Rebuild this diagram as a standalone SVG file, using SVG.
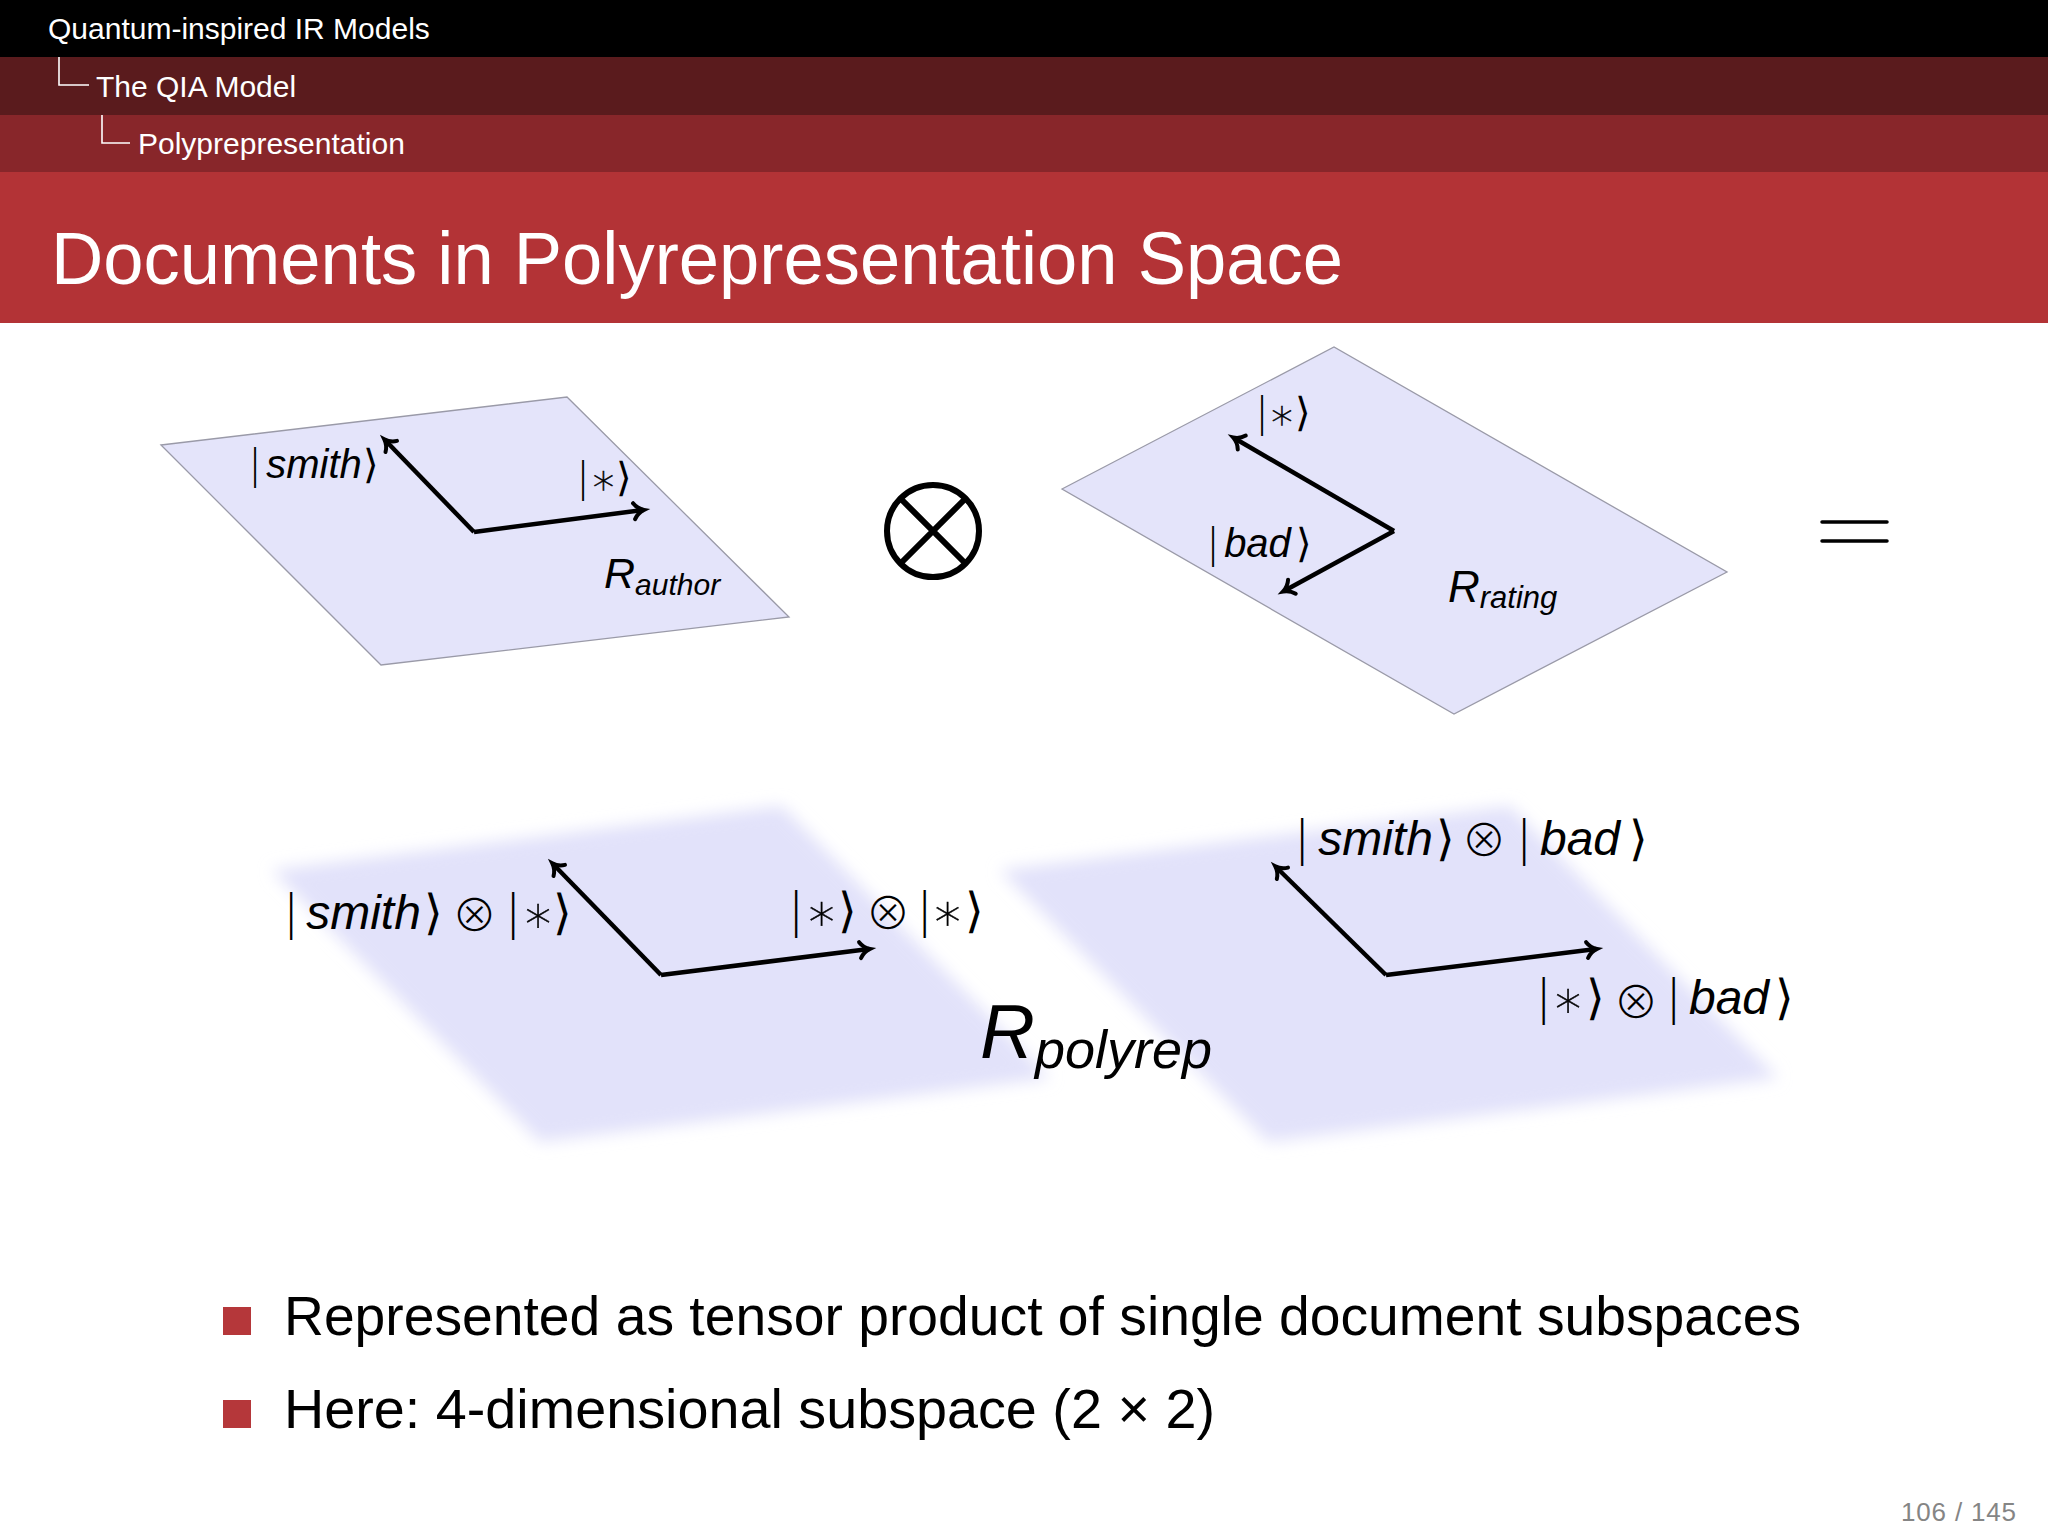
<svg xmlns="http://www.w3.org/2000/svg" width="2048" height="1536" viewBox="0 0 2048 1536">
<defs>
<style>
.hdr{font-family:"Liberation Sans",Arial,sans-serif;fill:#fff;font-size:30px}
.title{font-family:"Liberation Sans",Arial,sans-serif;fill:#fff;font-size:74px}
.body{font-family:"Liberation Sans",Arial,sans-serif;fill:#000;font-size:56px}
.plane{fill:#e4e4fa;stroke:#9a9aa8;stroke-width:1.3}
.soft{fill:#e2e2fa;stroke:none}
.sym{font-family:"DejaVu Sans",sans-serif;font-weight:200;fill:#000;text-anchor:middle}
.ast{font-family:"DejaVu Sans",sans-serif;font-weight:200;fill:#000;text-anchor:middle;stroke:#000;stroke-width:0.5}
.a40{font-size:43px}
.a48{font-size:52px}
.ot{font-family:"Noto Sans CJK JP","DejaVu Sans",sans-serif;font-weight:300;fill:#000;text-anchor:middle;font-size:45px}
.it{font-family:"Liberation Sans",Arial,sans-serif;font-style:italic;fill:#000}
.s40{font-size:40px}
.s48{font-size:48px}
.vec{stroke:#000;stroke-width:4.5;fill:none;marker-end:url(#tip)}
.tree{stroke:#fff;stroke-width:1.6;fill:none}
</style>
<marker id="tip" markerUnits="userSpaceOnUse" viewBox="-14 -12 20 24" refX="0" refY="0" markerWidth="20" markerHeight="24" orient="auto" overflow="visible">
<path d="M-9,-8 C-6,-3 -2,-1 1,0 C-2,1 -6,3 -9,8" fill="none" stroke="#000" stroke-width="4" stroke-linecap="round"/>
</marker>
<filter id="blur" x="-10%" y="-10%" width="120%" height="120%">
<feGaussianBlur stdDeviation="8"/>
</filter>
</defs>
<rect width="2048" height="1536" fill="#fff"/>

<g id="header">
<rect x="0" y="0" width="2048" height="57" fill="#000"/>
<rect x="0" y="57" width="2048" height="58" fill="#5a1b1d"/>
<rect x="0" y="115" width="2048" height="57" fill="#88262a"/>
<rect x="0" y="172" width="2048" height="151" fill="#b33336"/>
<text class="hdr" x="48" y="39">Quantum-inspired IR Models</text>
<path class="tree" d="M59,57 V85 H89"/>
<text class="hdr" x="96" y="97">The QIA Model</text>
<path class="tree" d="M102,115 V143 H130"/>
<text class="hdr" x="138" y="154">Polyprepresentation</text>
<text class="title" x="51" y="284" textLength="1292" lengthAdjust="spacingAndGlyphs">Documents in Polyrepresentation Space</text>
</g>

<g id="plane-author">
<polygon class="plane" points="161,445 567,397 789,617 381,665"/>
<text class="sym s40" x="255" y="478">|</text>
<text class="it s40" x="314" y="478" text-anchor="middle">smith</text>
<text class="sym s40" x="371" y="478">⟩</text>
<text class="sym s40" x="583" y="491">|</text>
<text class="ast a40" x="603.5" y="494">∗</text>
<text class="sym s40" x="624" y="491">⟩</text>
<text class="it" x="604" y="588" font-size="43">R<tspan font-size="30" dy="7">author</tspan></text>
</g>

<g id="otimes">
<circle cx="933" cy="531" r="46" fill="none" stroke="#000" stroke-width="6"/>
<path d="M900.5,498.5 L965.5,563.5 M965.5,498.5 L900.5,563.5" stroke="#000" stroke-width="6"/>
</g>

<g id="plane-rating">
<polygon class="plane" points="1062,489 1334,347 1727,572 1454,714"/>
<text class="sym s40" x="1262" y="426">|</text>
<text class="ast a40" x="1282" y="429">∗</text>
<text class="sym s40" x="1302.5" y="426">⟩</text>
<text class="sym s40" x="1213" y="557">|</text>
<text class="it s40" x="1257.5" y="557" text-anchor="middle">bad</text>
<text class="sym s40" x="1304" y="557">⟩</text>
<text class="it" x="1448" y="602" font-size="44">R<tspan font-size="31" dy="6">rating</tspan></text>
</g>

<g id="equals">
<path d="M1822,522 H1887 M1822,541 H1887" stroke="#000" stroke-width="3.5" stroke-linecap="round"/>
</g>

<g id="plane-polyrep">
<polygon class="soft" filter="url(#blur)" points="272,870 782,806 1050,1078 540,1142"/>
<polygon class="soft" filter="url(#blur)" points="1000,870 1510,806 1778,1078 1268,1142"/>
<text class="sym s48" x="291" y="929">|</text>
<text class="it s48" x="363.5" y="929" text-anchor="middle">smith</text>
<text class="sym s48" x="433.5" y="929">⟩</text>
<text class="ot" x="474.5" y="932">⊗</text>
<text class="sym s48" x="513" y="929">|</text>
<text class="ast a48" x="538" y="932">∗</text>
<text class="sym s48" x="562.5" y="929">⟩</text>

<text class="sym s48" x="796" y="927">|</text>
<text class="ast a48" x="821.5" y="930">∗</text>
<text class="sym s48" x="847" y="927">⟩</text>
<text class="ot" x="888" y="930">⊗</text>
<text class="sym s48" x="924.5" y="927">|</text>
<text class="ast a48" x="947.5" y="930">∗</text>
<text class="sym s48" x="974.5" y="927">⟩</text>

<text class="sym s48" x="1302" y="855">|</text>
<text class="it s48" x="1375.5" y="855" text-anchor="middle">smith</text>
<text class="sym s48" x="1445.5" y="855">⟩</text>
<text class="ot" x="1484" y="857">⊗</text>
<text class="sym s48" x="1524" y="855">|</text>
<text class="it s48" x="1580" y="855" text-anchor="middle">bad</text>
<text class="sym s48" x="1638" y="855">⟩</text>

<text class="sym s48" x="1543.5" y="1014">|</text>
<text class="ast a48" x="1568" y="1017">∗</text>
<text class="sym s48" x="1595" y="1014">⟩</text>
<text class="ot" x="1636" y="1019">⊗</text>
<text class="sym s48" x="1673.6" y="1014">|</text>
<text class="it s48" x="1729" y="1014" text-anchor="middle">bad</text>
<text class="sym s48" x="1784.5" y="1014">⟩</text>

<text class="it" x="980" y="1058" font-size="76">R<tspan font-size="54" dy="10">polyrep</tspan></text>
</g>

<g id="connectors">
<path class="vec" d="M474,532 L385,440"/>
<path class="vec" d="M474,532 L643,510"/>
<path class="vec" d="M1394,531 L1234,438"/>
<path class="vec" d="M1394,531 L1284,591"/>
<path class="vec" d="M661,975 L553,864"/>
<path class="vec" d="M661,975 L869,949"/>
<path class="vec" d="M1386,975 L1276,867"/>
<path class="vec" d="M1386,975 L1596,949"/>
</g>

<g id="bullets">
<rect x="223" y="1307" width="28" height="28" fill="#b5373a"/>
<text class="body" x="284" y="1335" textLength="1517" lengthAdjust="spacingAndGlyphs">Represented as tensor product of single document subspaces</text>
<rect x="223" y="1400" width="28" height="28" fill="#b5373a"/>
<text class="body" x="284" y="1428" textLength="931" lengthAdjust="spacingAndGlyphs">Here: 4-dimensional subspace (2 × 2)</text>
</g>

<text x="1901" y="1521" font-family="Liberation Sans, Arial, sans-serif" font-size="26" fill="#858585" textLength="115" lengthAdjust="spacing">106 / 145</text>
</svg>
